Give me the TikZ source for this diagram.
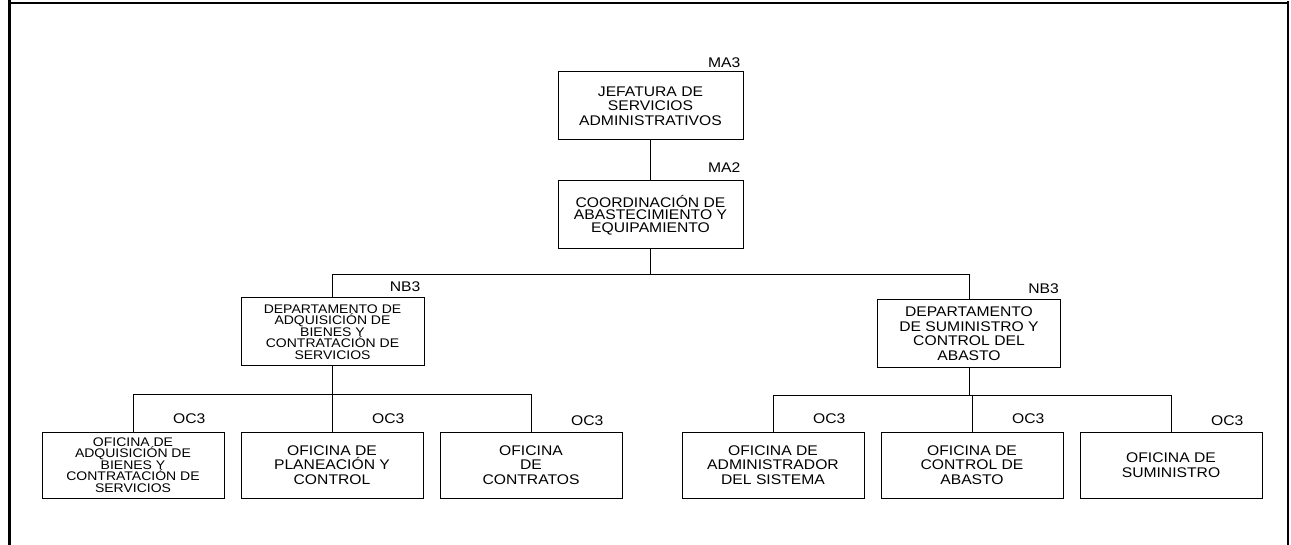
\documentclass[tikz,border=0pt]{standalone}
\usepackage{fontspec}
\newfontfamily\orgfont{Liberation Sans}[FakeStretch=1.12]
\usetikzlibrary{positioning,calc}
\newcommand{\orgbig}{\orgfont\fontsize{14}{14.5}\selectfont\setlength{\lineskiplimit}{-5pt}}
\newcommand{\orgtight}{\orgfont\fontsize{14}{12.5}\selectfont\setlength{\lineskiplimit}{-5pt}}
\newcommand{\orgsmall}{\orgfont\fontsize{12.5}{11.5}\selectfont\setlength{\lineskiplimit}{-5pt}}

\begin{document}
\begin{tikzpicture}[x=1pt,y=-1pt,
    unit/.style={draw,line width=1pt,minimum width=183pt,minimum height=68pt,inner sep=0pt,align=center,font=\orgbig},
    office/.style={unit,minimum width=182pt,minimum height=66pt},
    smalltxt/.style={font=\orgsmall},
    level/.style={anchor=base east,inner sep=0pt,font=\orgbig},
    link/.style={line width=1pt}]
  \useasboundingbox (0,0) rectangle (1291,545);
  % page frame
  \draw[line width=2.5pt] (9.5,0) -- (9.5,545);
  \draw[line width=2.5pt] (1288,1.5) -- (1288,545);
  \draw[line width=1.2pt] (9,3) -- (1288,3);
  % upper levels
  \node[unit,minimum width=185pt] (jef) at (650.5,106) {JEFATURA DE\\SERVICIOS\\ADMINISTRATIVOS};
  \node[unit,minimum width=185pt,below=40pt of jef,font=\orgtight] (coord)
    {COORDINACIÓN DE\\ABASTECIMIENTO Y\\EQUIPAMIENTO};
  \node[unit,smalltxt] (depL) at (332.5,332) {DEPARTAMENTO DE\\ADQUISICIÓN DE\\BIENES Y\\CONTRATACIÓN DE\\SERVICIOS};
  \node[unit] (depR) at (969,333.5) {DEPARTAMENTO\\DE SUMINISTRO Y\\CONTROL DEL\\ABASTO};
  % offices
  \node[office] (oL2) at (332,465) {OFICINA DE\\PLANEACIÓN Y\\CONTROL};
  \node[office,smalltxt,left=16pt of oL2] (oL1) {OFICINA DE\\ADQUISICIÓN DE\\BIENES Y\\CONTRATACIÓN DE\\SERVICIOS};
  \node[office,right=16pt of oL2] (oL3) {OFICINA\\DE\\CONTRATOS};
  \node[office] (oR2) at (972,465) {OFICINA DE\\CONTROL DE\\ABASTO};
  \node[office,left=16pt of oR2] (oR1) {OFICINA DE\\ADMINISTRADOR\\DEL SISTEMA};
  \node[office,right=16pt of oR2] (oR3) {OFICINA DE\\SUMINISTRO};
  % level codes
  \node[level] (jef-lvl) at ([xshift=-3pt,yshift=4pt]jef.north east) {MA3};
  \node[level] (coord-lvl) at ([xshift=-3pt,yshift=8pt]coord.north east) {MA2};
  \node[level] (depL-lvl) at ([xshift=-4pt,yshift=6pt]depL.north east) {NB3};
  \node[level] (depR-lvl) at ([xshift=-2pt,yshift=5pt]depR.north east) {NB3};
  \foreach \o/\dy in {oL1/8,oL2/8,oL3/6,oR1/8,oR2/8,oR3/6}
    \node[level] (\o-lvl) at ([xshift=-19pt,yshift=\dy pt]\o.north east) {OC3};
  % connectors
  \coordinate (bus) at ($(coord.south)+(0,25)$);
  \coordinate (busL) at ($(depL.south)+(0,28)$);
  \coordinate (busR) at ($(depR.south)+(0,27)$);
  \draw[link] (jef) -- (coord);
  \draw[link] (coord) -- (bus) -| (depL);
  \draw[link] (bus) -| (depR);
  \draw[link] (depL) -- (busL);
  \draw[link] (depR) -- (busR);
  \foreach \o in {oL1,oL2,oL3}
    \draw[link] (busL) -| (\o);
  \foreach \o in {oR1,oR2,oR3}
    \draw[link] (busR) -| (\o);
\end{tikzpicture}
\end{document}
